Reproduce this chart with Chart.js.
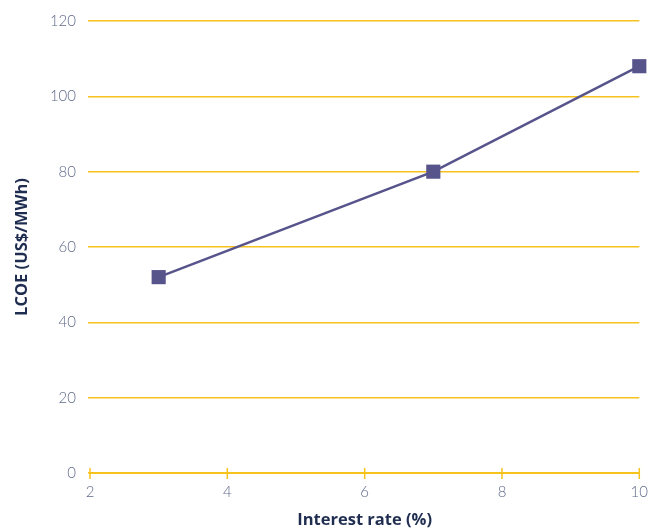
<!DOCTYPE html>
<html>
<head>
<meta charset="utf-8">
<script src="https://cdn.jsdelivr.net/npm/chart.js@4"></script>
<style>
  html, body { margin: 0; padding: 0; background: #fff; }
  #wrap { width: 651px; height: 530px; }
</style>
</head>
<body>
<div id="wrap"><canvas id="myChart"></canvas></div>
<script>
// interest rate (%) vs LCOE
const interestRates = [3, 7, 10];
const lcoeValues = [52, 80, 108];
const xTicks = [2, 4, 6, 8, 10];
const yTicks = [0, 20, 40, 60, 80, 100, 120];

const yellow = '#f6c21c';
const purple = '#57548c';
const tickGrey = '#5f6a8a';
const navy = '#1f2d50';

// small tick marks that cross the x axis (up and down)
const crossTicks = {
    id: 'crossTicks',
    afterDraw(chart) {
        const ctx = chart.ctx;
        const xs = chart.scales.x;
        const y0 = chart.scales.y.getPixelForValue(0);
        ctx.save();
        ctx.strokeStyle = yellow;
        ctx.lineWidth = 1.5;
        xTicks.forEach(v => {
            const px = xs.getPixelForValue(v);
            ctx.beginPath();
            ctx.moveTo(px, y0 - 5);
            ctx.lineTo(px, y0 + 6);
            ctx.stroke();
        });
        ctx.restore();
    }
};

const ctx = document.getElementById('myChart').getContext('2d');
const myChart = new Chart(ctx, {
    type: 'line',
    data: {
        datasets: [{
            label: 'LCOE',
            data: interestRates.map((x, i) => ({ x: x, y: lcoeValues[i] })),
            borderColor: purple,
            backgroundColor: purple,
            borderWidth: 2.5,
            pointStyle: 'rect',
            pointRadius: 10,
            pointHoverRadius: 10,
            pointBorderWidth: 0,
            tension: 0,
            clip: false
        }]
    },
    options: {
        responsive: true,
        maintainAspectRatio: false,
        animation: false,
        layout: { autoPadding: false, padding: { top: 19, right: 0, left: 12, bottom: 0 } },
        plugins: {
            legend: { display: false },
            tooltip: { enabled: false }
        },
        scales: {
            x: {
                type: 'linear',
                min: 2,
                max: 10,
                afterBuildTicks: s => { s.ticks = xTicks.map(v => ({ value: v })); },
                border: { display: true, color: yellow, width: 2 },
                grid: { drawOnChartArea: false, drawTicks: true, tickLength: 7, tickColor: 'rgba(0,0,0,0)' },
                ticks: {
                    color: tickGrey,
                    padding: 3,
                    font: { family: 'Lato', size: 15, weight: '300' }
                },
                title: {
                    display: true,
                    text: 'Interest rate (%)',
                    color: navy,
                    font: { family: 'Open Sans', size: 16.5, weight: 'bold' },
                    padding: { top: 2, bottom: 0 }
                },
                afterFit: s => { s.height = 57; }
            },
            y: {
                min: 0,
                max: 120,
                afterBuildTicks: s => { s.ticks = yTicks.map(v => ({ value: v })); },
                border: { display: false },
                grid: { color: yellow, lineWidth: 1.5, drawTicks: true, tickLength: 2 },
                ticks: {
                    color: tickGrey,
                    padding: 12,
                    font: { family: 'Lato', size: 15, weight: '300' }
                },
                title: {
                    display: true,
                    text: 'LCOE (US$/MWh)',
                    color: navy,
                    font: { family: 'Open Sans', size: 16.5, weight: 'bold' },
                    padding: { top: 0, bottom: 0 }
                },
                afterFit: s => { s.width = 78; }
            }
        }
    },
    plugins: [crossTicks]
});
</script>
</body>
</html>
